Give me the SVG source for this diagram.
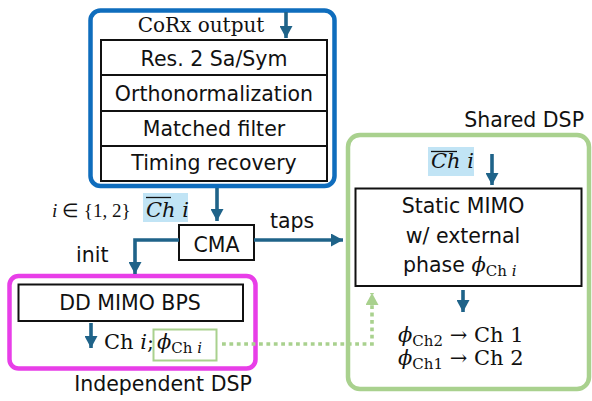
<svg xmlns="http://www.w3.org/2000/svg" width="592" height="401" viewBox="0 0 592 401">
  <defs>
    <marker id="ah" viewBox="0 0 12 13" refX="12" refY="6.5" markerWidth="12" markerHeight="13" orient="auto" markerUnits="userSpaceOnUse">
      <path d="M0,0 L12,6.5 L0,13 z" fill="#1f6389"/>
    </marker>
    <marker id="ahg" viewBox="0 0 12 13" refX="12" refY="6.5" markerWidth="12" markerHeight="13" orient="auto" markerUnits="userSpaceOnUse">
      <path d="M0,0 L12,6.5 L0,13 z" fill="#a9d18e"/>
    </marker>
  </defs>
  <style>
    .sans { font-family: "DejaVu Sans", "Liberation Sans", sans-serif; font-size: 20.5px; fill: #111; }
    .serif { font-family: "DejaVu Serif", "Liberation Serif", serif; font-size: 20px; fill: #111; }
    .math { font-family: "DejaVu Serif", "Liberation Serif", serif; font-size: 21px; fill: #111; }
    .it { font-style: italic; }
    .sub { font-size: 15px; }
    .box { fill: #fff; stroke: #111; stroke-width: 2; }
    .arrow { fill: none; stroke: #1f6389; stroke-width: 3.6; marker-end: url(#ah); }
    .hl { fill: #c1e4f5; }
  </style>

  <rect width="592" height="401" fill="#fff"/>

  <!-- receiver front-end -->
  <g id="corx">
    <rect x="90.5" y="10.5" width="244" height="175.5" rx="10" fill="none" stroke="#0f6dbd" stroke-width="4.5"/>
    <text class="serif" x="201" y="32" text-anchor="middle">CoRx output</text>
    <rect class="box" x="101" y="40" width="226" height="141"/>
    <line x1="101" y1="75" x2="327" y2="75" stroke="#111" stroke-width="2"/>
    <line x1="101" y1="111" x2="327" y2="111" stroke="#111" stroke-width="2"/>
    <line x1="101" y1="146" x2="327" y2="146" stroke="#111" stroke-width="2"/>
    <text class="sans" x="214" y="66" text-anchor="middle">Res. 2 Sa/Sym</text>
    <text class="sans" x="214" y="101" text-anchor="middle">Orthonormalization</text>
    <text class="sans" x="214" y="136" text-anchor="middle">Matched filter</text>
    <text class="sans" x="214" y="170" text-anchor="middle">Timing recovery</text>
  </g>

  <!-- channel selector label -->
  <g id="channel-label">
    <text x="52" y="217" font-family="'Liberation Serif', serif" font-size="19" fill="#111"><tspan class="it">i</tspan> ∈ {1, 2}</text>
    <rect class="hl" x="143" y="193" width="45" height="29"/>
    <line x1="146" y1="197.5" x2="171" y2="197.5" stroke="#111" stroke-width="1.3"/>
    <text class="math it" x="146" y="217">Ch i</text>
  </g>

  <!-- CMA -->
  <g id="cma">
    <rect class="box" x="179" y="225" width="75" height="35"/>
    <text class="sans" x="216.5" y="251.5" text-anchor="middle">CMA</text>
  </g>

  <!-- independent DSP -->
  <g id="independent-dsp">
    <rect x="9.5" y="276" width="246" height="92.5" rx="9" fill="none" stroke="#e83ee8" stroke-width="4.5"/>
    <rect class="box" x="18.5" y="284.5" width="224.5" height="36.5"/>
    <text class="sans" x="130" y="310" text-anchor="middle">DD MIMO BPS</text>
    <text class="math" x="104" y="349">Ch <tspan class="it">i</tspan>;</text>
    <rect x="153.5" y="329.5" width="63" height="31" fill="#fff" stroke="#a9d18e" stroke-width="2"/>
    <text class="math" x="157" y="349"><tspan class="it">ϕ</tspan><tspan class="sub" dy="4">Ch </tspan><tspan class="sub it">i</tspan></text>
    <text class="sans" x="163" y="391" text-anchor="middle">Independent DSP</text>
  </g>

  <!-- shared DSP -->
  <g id="shared-dsp">
    <text class="sans" x="584" y="127" text-anchor="end">Shared DSP</text>
    <rect x="348" y="135" width="241" height="254" rx="12" fill="none" stroke="#a9d18e" stroke-width="4.5"/>
    <rect class="hl" x="428" y="147" width="46" height="29"/>
    <line x1="431" y1="151.5" x2="457" y2="151.5" stroke="#111" stroke-width="1.3"/>
    <text class="math it" x="431" y="168">Ch i</text>
    <rect class="box" x="355.5" y="188.5" width="226" height="97.5"/>
    <text class="sans" x="463" y="213" text-anchor="middle">Static MIMO</text>
    <text class="sans" x="463" y="243" text-anchor="middle">w/ external</text>
    <text class="sans" x="403" y="272">phase <tspan class="math it">ϕ</tspan><tspan class="math sub" dy="4">Ch </tspan><tspan class="math sub it">i</tspan></text>
    <text class="math" x="398" y="342"><tspan class="it">ϕ</tspan><tspan class="sub" dy="4">Ch2</tspan><tspan dy="-4"> → Ch 1</tspan></text>
    <text class="math" x="398" y="365"><tspan class="it">ϕ</tspan><tspan class="sub" dy="4">Ch1</tspan><tspan dy="-4"> → Ch 2</tspan></text>
  </g>

  <!-- connectors -->
  <g id="connectors">
    <line class="arrow" x1="286" y1="12" x2="286" y2="38"/>
    <line class="arrow" x1="217" y1="188" x2="217" y2="221"/>
    <line class="arrow" x1="254" y1="240" x2="343" y2="240"/>
    <text class="sans" x="270" y="228">taps</text>
    <polyline class="arrow" points="179,240 135,240 135,274"/>
    <text class="sans" x="76" y="262">init</text>
    <line class="arrow" x1="91" y1="323" x2="91" y2="348"/>
    <line class="arrow" x1="492" y1="154" x2="492" y2="185"/>
    <line class="arrow" x1="463" y1="290" x2="463" y2="312"/>
    <polyline points="222,344 372,344 372,293" fill="none" stroke="#a9d18e" stroke-width="3.6" stroke-dasharray="3.8 3.6" marker-end="url(#ahg)"/>
  </g>
</svg>
